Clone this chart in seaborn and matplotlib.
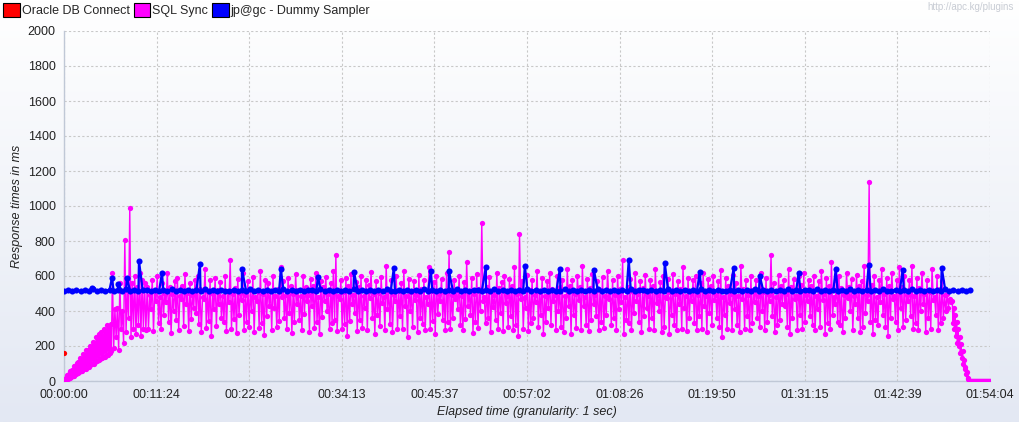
import numpy as np
import pandas as pd
import matplotlib
matplotlib.use("Agg")
import matplotlib.pyplot as plt
import seaborn as sns
from matplotlib.patches import Patch
from matplotlib.ticker import FuncFormatter, FixedLocator
from matplotlib.colors import LinearSegmentedColormap

# ---------------- data ----------------
series_names = ["Oracle DB Connect", "SQL Sync", "jp@gc - Dummy Sampler"]
series_colors = ["#ff0000", "#ff00ff", "#0000ff"]

oracle_t = [0]
oracle_ms = [160]

# SQL Sync ramp-up 0..350 s (upper / lower envelope samples, alternating)
sql_ramp_hi = [12, 18, 35, 40, 58, 62, 85, 88, 105, 110, 130, 128, 155, 150, 175,
               180, 200, 195, 225, 220, 250, 240, 270, 280, 260, 300, 285, 320, 305, 325]
sql_ramp_lo = [2, 8, 12, 18, 22, 30, 28, 40, 45, 50, 58, 55, 68, 70, 80,
               78, 92, 95, 100, 110, 112, 118, 125, 130, 140, 135, 150, 148, 160, 170]
# transition 360..600 s
sql_trans_hi = [615, 410, 420, 560, 400, 805, 520, 990, 560, 600, 540, 620, 580, 560]
sql_trans_lo = [190, 250, 180, 300, 220, 280, 360, 250, 300, 270, 320, 260, 300, 290]
# steady state 615..6555 s
sql_main_hi = [
    540, 490, 580, 510, 600, 480, 560, 500, 620, 540, 495, 570, 590, 485, 545, 610, 505, 560, 490, 580,
    600, 525, 480, 640, 510, 575, 495, 590, 520, 565, 485, 600, 515, 690, 500, 530, 585, 505, 620, 490,
    570, 520, 595, 480, 510, 630, 495, 580, 560, 515, 600, 485, 525, 650, 570, 490, 590, 545, 500, 610,
    520, 485, 600, 535, 490, 585, 545, 620, 480, 570, 540, 595, 495, 560, 630, 720, 485, 575, 510, 590,
    545, 610, 490, 565, 540, 600, 485, 580, 550, 625, 495, 570, 505, 595, 480, 660, 520, 575, 490, 600,
    515, 560, 630, 485, 585, 510, 570, 490, 605, 525, 580, 480, 650, 515, 565, 600, 495, 585, 510, 620,
    735, 490, 575, 520, 600, 485, 565, 680, 515, 590, 495, 610, 525, 905, 480, 540, 595, 510, 490, 620,
    530, 565, 600, 485, 585, 545, 650, 495, 840, 570, 480, 605, 520, 580, 490, 630, 510, 590, 485, 570,
    615, 525, 490, 600, 535, 580, 485, 640, 545, 575, 495, 600, 540, 660, 480, 585, 530, 610, 490, 570,
    520, 595, 485, 630, 515, 575, 490, 600, 525, 690, 480, 535, 585, 510, 620, 495, 570, 530, 605, 485,
    580, 545, 640, 490, 565, 600, 480, 585, 510, 610, 495, 570, 525, 650, 485, 590, 515, 575, 600, 490,
    560, 620, 485, 585, 545, 600, 490, 570, 635, 480, 590, 545, 495, 605, 560, 485, 660, 525, 580, 490,
    600, 520, 575, 485, 620, 510, 590, 490, 720, 560, 480, 605, 545, 575, 495, 640, 540, 585, 485, 600,
    550, 615, 490, 580, 545, 600, 485, 570, 630, 495, 590, 545, 680, 480, 575, 600, 530, 490, 620, 540,
    585, 485, 605, 545, 570, 660, 490, 1135, 550, 600, 480, 575, 640, 495, 590, 545, 620, 485, 580, 650,
    540, 600, 490, 575, 660, 485, 590, 530, 620, 495, 580, 510, 640, 480, 600, 525, 570, 490, 500, 470,
]
sql_main_lo = [
    300, 410, 285, 460, 330, 295, 380, 450, 340, 275, 400, 350, 290, 470, 315, 440, 285, 355, 420, 390,
    325, 280, 470, 305, 345, 255, 410, 315, 440, 360, 335, 285, 450, 300, 355, 275, 380, 465, 290, 340,
    310, 400, 280, 455, 305, 330, 265, 370, 430, 290, 420, 310, 345, 480, 360, 300, 390, 275, 335, 440,
    350, 290, 385, 460, 280, 430, 305, 340, 270, 365, 455, 400, 295, 330, 350, 285, 470, 300, 325, 260,
    345, 440, 390, 285, 350, 305, 420, 290, 475, 360, 270, 380, 315, 445, 290, 410, 325, 280, 460, 300,
    370, 295, 430, 250, 400, 310, 465, 280, 360, 325, 290, 440, 300, 345, 270, 385, 455, 350, 290, 335,
    300, 360, 470, 410, 320, 290, 355, 430, 380, 275, 340, 305, 400, 460, 330, 360, 280, 425, 350, 300,
    390, 285, 445, 310, 370, 290, 320, 260, 470, 300, 420, 285, 330, 360, 450, 310, 380, 270, 340, 415,
    320, 455, 290, 400, 310, 280, 360, 430, 270, 380, 305, 465, 290, 430, 320, 285, 350, 440, 370, 290,
    340, 305, 380, 470, 320, 360, 290, 410, 450, 270, 350, 330, 290, 390, 460, 340, 280, 370, 420, 300,
    360, 290, 445, 400, 280, 310, 475, 270, 380, 320, 290, 440, 300, 420, 285, 360, 455, 330, 290, 370,
    300, 430, 280, 390, 320, 465, 360, 310, 250, 380, 300, 445, 290, 410, 320, 280, 470, 300, 370, 290,
    330, 450, 360, 310, 400, 290, 340, 460, 370, 280, 320, 350, 440, 430, 310, 270, 360, 470, 290, 380,
    300, 340, 455, 370, 320, 290, 410, 310, 465, 270, 330, 300, 380, 440, 340, 320, 280, 360, 475, 400,
    290, 440, 360, 280, 310, 390, 460, 340, 270, 350, 320, 450, 380, 310, 260, 360, 470, 340, 290, 420,
    310, 350, 455, 370, 300, 330, 290, 400, 440, 280, 360, 300, 465, 380, 290, 330, 360, 400, 420, 450,
]
# ramp-down 6565..6690 s
sql_drop_ms = [460, 330, 420, 300, 380, 260, 340, 220, 300, 200, 250, 160, 210, 130,
               170, 100, 120, 70, 80, 40, 50, 15, 10, 0]
# idle tail 6700..6844 s
sql_tail_ms = [0, 0, 0, 0, 0, 0, 0, 0, 0, 0, 0, 0, 0, 0, 0, 0, 0, 0, 0, 0,
               0, 0, 0, 0, 0, 0, 0, 0, 0, 0, 0, 0, 0, 0, 0, 0, 0, 0, 0, 0]

# Dummy Sampler baseline 0..6696 s
dummy_base_ms = [
    513, 520, 515, 522, 512, 519, 516, 523, 513, 520, 515, 522, 512, 519, 516, 523, 513, 520, 515, 522,
    519, 512, 522, 515, 520, 513, 523, 516, 519, 512, 522, 515, 520, 513, 523, 516, 519, 512, 522, 515,
    515, 522, 512, 520, 516, 523, 513, 519, 515, 522, 512, 520, 516, 523, 513, 519, 515, 522, 512, 520,
    520, 513, 523, 516, 519, 512, 522, 515, 520, 513, 523, 516, 519, 512, 522, 515, 520, 513, 523, 516,
    512, 519, 515, 522, 513, 520, 516, 523, 512, 519, 515, 522, 513, 520, 516, 523, 512, 519, 515, 522,
    522, 515, 520, 513, 523, 516, 519, 512, 522, 515, 520, 513, 523, 516, 519, 512, 522, 515, 520, 513,
    516, 523, 512, 519, 515, 522, 513, 520, 516, 523, 512, 519, 515, 522, 513, 520, 516, 523, 512, 519,
    519, 512, 522, 515, 520, 513, 523, 516, 519, 512, 522, 515, 520, 513, 523, 516, 519, 512, 522, 515,
    513, 520, 515, 522, 512, 519, 516, 523, 513, 520, 515, 522, 512, 519, 516, 523, 513, 520, 515, 522,
    520, 513, 523, 516, 519, 512, 522, 515, 520, 513, 523, 516, 519, 512, 522, 515, 520, 513, 523, 516,
    515, 522, 512, 520, 516, 523, 513, 519, 515, 522, 512, 520, 516, 523, 513, 519, 515, 522, 512, 520,
]
dummy_spike_t = [207, 355, 399, 465, 554, 724, 1005, 1315, 1603, 1877, 2143,
                 2438, 2712, 2845, 3118, 3406, 3665, 3916, 4174, 4440, 4699,
                 4950, 5142, 5430, 5704, 5948, 6199, 6487]
dummy_spike_ms = [533, 590, 556, 590, 688, 619, 670, 642, 642, 596, 625, 648,
                  630, 630, 653, 659, 642, 636, 693, 676, 625, 648, 602, 619,
                  642, 665, 636, 648]

x_end = 6844
y_max = 2000
x_label = "Elapsed time (granularity: 1 sec)"
y_label = "Response times in ms"
watermark = "http://apc.kg/plugins"


# ---------------- build table ----------------
def interleave(hi, lo):
    out = []
    for a, b in zip(hi, lo):
        out += [a, b]
    return out


ramp = interleave(sql_ramp_hi, sql_ramp_lo)
trans = interleave(sql_trans_hi, sql_trans_lo)
main = interleave(sql_main_hi, sql_main_lo)
sql_t = np.concatenate([
    np.linspace(0, 350, len(ramp)),
    np.linspace(358, 605, len(trans)),
    np.linspace(615, 6555, len(main)),
    np.linspace(6565, 6690, len(sql_drop_ms)),
    np.linspace(6700, x_end, len(sql_tail_ms)),
])
sql_ms = ramp + trans + main + sql_drop_ms + sql_tail_ms

d_t = np.concatenate([np.linspace(0, 6696, len(dummy_base_ms)), dummy_spike_t])
d_ms = np.concatenate([dummy_base_ms, dummy_spike_ms])
order = np.argsort(d_t, kind="stable")
d_t, d_ms = d_t[order], d_ms[order]

df = pd.concat([
    pd.DataFrame({"t": oracle_t, "ms": oracle_ms, "series": series_names[0]}),
    pd.DataFrame({"t": sql_t, "ms": sql_ms, "series": series_names[1]}),
    pd.DataFrame({"t": d_t, "ms": d_ms, "series": series_names[2]}),
], ignore_index=True)

# ---------------- plot ----------------
sns.set_theme(style="white")
plt.rcParams["font.family"] = ["Liberation Sans", "DejaVu Sans"]

W, H = 1019, 422
fig = plt.figure(figsize=(W / 100, H / 100), dpi=100)

bg = fig.add_axes([0, 0, 1, 1], zorder=-10)
grad = np.linspace(0, 1, 256).reshape(-1, 1)
cmap = LinearSegmentedColormap.from_list("bg", ["#ffffff", "#e3e8f3"])
bg.imshow(grad, aspect="auto", cmap=cmap, extent=[0, 1, 0, 1], origin="upper")
bg.axis("off")

ax = fig.add_axes([64 / W, 1 - 381 / H, (990 - 64) / W, (381 - 31) / H])
ax.set_facecolor("none")

marker_sizes = [3.8, 3.8, 4.4]
line_widths = [1.0, 1.0, 1.6]
for name, col, ms, lw in zip(series_names, series_colors, marker_sizes, line_widths):
    sub = df[df["series"] == name]
    sns.lineplot(data=sub, x="t", y="ms", ax=ax, color=col, estimator=None,
                 sort=False, marker="o", markersize=ms, markeredgewidth=0,
                 linewidth=lw, legend=False, zorder=3)

ax.set_xlim(0, x_end)
ax.set_ylim(0, y_max)
xt = [x_end * i / 10 for i in range(11)]
ax.xaxis.set_major_locator(FixedLocator(xt))
ax.xaxis.set_major_formatter(FuncFormatter(
    lambda v, p: "%02d:%02d:%02d" % (int(v) // 3600, (int(v) % 3600) // 60, int(v) % 60)))
ax.yaxis.set_major_locator(FixedLocator(list(range(0, 2001, 200))))

ax.grid(True, color="#c8c8c8", linestyle=(0, (2, 2)), linewidth=0.8, zorder=0)
ax.set_axisbelow(True)
for s in ["top", "right"]:
    ax.spines[s].set_visible(False)
for s in ["left", "bottom"]:
    ax.spines[s].set_color("#c0c8d6")
    ax.spines[s].set_linewidth(1.0)
ax.tick_params(axis="both", labelsize=9, colors="#c0c8d6", labelcolor="#222222",
               length=4, width=1, direction="out", pad=2)

ax.set_xlabel(x_label, fontsize=9, style="italic", color="#222222", labelpad=3)
ax.set_ylabel(y_label, fontsize=9, style="italic", color="#222222", labelpad=3)

handles = [Patch(facecolor=c, edgecolor="black", linewidth=0.8) for c in series_colors]
fig.legend(handles, series_names, loc="upper left", bbox_to_anchor=(3 / W, 1 - 3 / H),
           ncol=3, frameon=False, fontsize=9, handlelength=1.35, handleheight=1.35,
           handletextpad=0.15, columnspacing=0.3, borderaxespad=0, borderpad=0)

fig.text(1014 / W, 1 - 7 / H, watermark, ha="right", va="center", fontsize=7,
         color="#c8ccd4")

fig.savefig("out.png", dpi=100)
